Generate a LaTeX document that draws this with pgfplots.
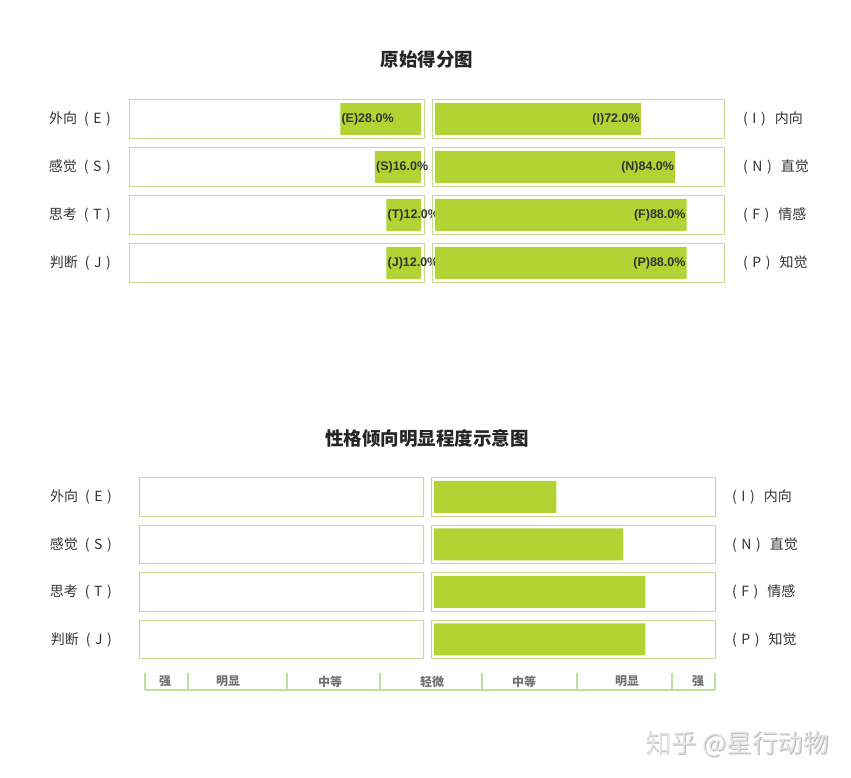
\documentclass[border=0pt]{standalone}
\usepackage{pgfplots}
\pgfplotsset{compat=1.18}
\usepackage{fontspec}
\setmainfont{Liberation Sans}
\newfontfamily\cjk{Noto Sans CJK SC}

\definecolor{barc}{HTML}{B3D334}
\definecolor{boxc}{HTML}{C9D890}
\definecolor{scalec}{HTML}{C3DE98}
\definecolor{txt}{HTML}{333333}

% one rectangle round a row: xmin, xmax, ylow, yhigh
\newcommand\rowbox[4]{\addplot[draw=boxc, line width=1pt, forget plot] coordinates {(#1,#3) (#2,#3) (#2,#4) (#1,#4)} --cycle;}
% row names, with the wide-spaced brackets of the original
\newcommand\labL[2]{#1\hspace{7pt}(\hspace{4.5pt}#2\hspace{4.5pt})}
\newcommand\labR[2]{(\hspace{4.5pt}#1\hspace{4.5pt})\hspace{9pt}#2}

\pgfplotsset{
  rowax/.style={scale only axis, anchor=south west, clip=false,
    y dir=reverse, ymin=0.5, ymax=4.5,
    axis line style={draw=none}, xtick=\empty, ytick={1,2,3,4},
    major tick length=0pt,
    yticklabel style={font=\cjk\fontsize{14}{16}\selectfont, text=txt, inner sep=0pt}},
  barplot/.style={xbar, bar width=32pt, fill=barc, draw=none},
  barlab/.style={nodes near coords, point meta=explicit symbolic,
    every node near coord/.append style={anchor=#1, inner sep=1pt, text=txt,
      font=\bfseries\fontsize{12.5}{14}\selectfont}},
}

\begin{document}
\begin{tikzpicture}
\useasboundingbox (0,0) rectangle (851pt,778pt);

% ---------------- 原始得分图 ----------------
\node[font=\cjk\bfseries\fontsize{18.5}{20}\selectfont, text=black!85] at (427pt,718pt) {原始得分图};

\begin{axis}[rowax, at={(130pt,491pt)}, width=294pt, height=192pt,
    x dir=reverse, xmin=-1.04, xmax=101.04,
    yticklabels={\labL{外向}{E},\labL{感觉}{S},\labL{思考}{T},\labL{判断}{J}},
    yticklabel style={xshift=-19pt}]
  \rowbox{-1.04}{101.04}{0.604}{1.396}
  \rowbox{-1.04}{101.04}{1.604}{2.396}
  \rowbox{-1.04}{101.04}{2.604}{3.396}
  \rowbox{-1.04}{101.04}{3.604}{4.396}
  \addplot[barplot, barlab=west] coordinates {
    (28,1) [(E)28.0\%]
    (16,2) [(S)16.0\%]
    (12,3) [(T)12.0\%]
    (12,4) [(J)12.0\%]
  };
\end{axis}

\begin{axis}[rowax, at={(432pt,491pt)}, width=292pt, height=192pt,
    xmin=-1.05, xmax=101.05, yticklabel pos=right,
    yticklabels={\labR{I}{内向},\labR{N}{直觉},\labR{F}{情感},\labR{P}{知觉}},
    yticklabel style={xshift=19pt}]
  \rowbox{-1.05}{101.05}{0.604}{1.396}
  \rowbox{-1.05}{101.05}{1.604}{2.396}
  \rowbox{-1.05}{101.05}{2.604}{3.396}
  \rowbox{-1.05}{101.05}{3.604}{4.396}
  \addplot[barplot, barlab=east] coordinates {
    (72,1) [(I)72.0\%]
    (84,2) [(N)84.0\%]
    (88,3) [(F)88.0\%]
    (88,4) [(P)88.0\%]
  };
\end{axis}

% ---------------- 性格倾向明显程度示意图 ----------------
\node[font=\cjk\bfseries\fontsize{18.5}{20}\selectfont, text=black!85] at (427pt,340pt) {性格倾向明显程度示意图};

\begin{axis}[rowax, at={(140pt,114.75pt)}, width=284pt, height=190pt,
    x dir=reverse, xmin=-1.08, xmax=101.08,
    yticklabels={\labL{外向}{E},\labL{感觉}{S},\labL{思考}{T},\labL{判断}{J}},
    yticklabel style={xshift=-28pt}]
  \rowbox{-1.08}{101.08}{0.59}{1.41}
  \rowbox{-1.08}{101.08}{1.59}{2.41}
  \rowbox{-1.08}{101.08}{2.59}{3.41}
  \rowbox{-1.08}{101.08}{3.59}{4.41}
  \addplot[barplot] coordinates {(0,1) (0,2) (0,3) (0,4)};
\end{axis}

\begin{axis}[rowax, at={(431pt,114.75pt)}, width=284pt, height=190pt,
    xmin=-1.08, xmax=101.08, yticklabel pos=right,
    yticklabels={\labR{I}{内向},\labR{N}{直觉},\labR{F}{情感},\labR{P}{知觉}},
    yticklabel style={xshift=17pt}]
  \rowbox{-1.08}{101.08}{0.59}{1.41}
  \rowbox{-1.08}{101.08}{1.59}{2.41}
  \rowbox{-1.08}{101.08}{2.59}{3.41}
  \rowbox{-1.08}{101.08}{3.59}{4.41}
  \addplot[barplot] coordinates {(44,1) (68,2) (76,3) (76,4)};
\end{axis}

% scale under the second chart
\begin{axis}[scale only axis, anchor=south west, at={(145pt,88pt)},
    width=570pt, height=20pt, xmin=145, xmax=715, ymin=0, ymax=1,
    axis x line*=bottom, axis y line=none,
    x axis line style={draw=scalec, line width=1.5pt},
    xtick={165,228,330,432,524,627,698},
    xticklabels={强,明显,中等,轻微,中等,明显,强},
    major tick length=0pt,
    xticklabel style={font=\cjk\bfseries\fontsize{12}{13}\selectfont, text=black!55, anchor=center, yshift=8.5pt},
    extra x ticks={145,188,287,380,482,577,672,715},
    extra x tick labels={},
    extra x tick style={tick align=inside, major tick length=17pt,
      tick style={draw=scalec, line width=1.5pt}}]
  \addplot[draw=none] coordinates {(145,0) (715,0)};
\end{axis}

% watermark
\node[font=\cjk\fontsize{25.5}{27}\selectfont, text=black!28] at (738.2pt,33.3pt) {知乎 @星行动物};
\node[font=\cjk\fontsize{25.5}{27}\selectfont, text=black!10] at (737.5pt,34pt) {知乎 @星行动物};
\end{tikzpicture}
\end{document}
